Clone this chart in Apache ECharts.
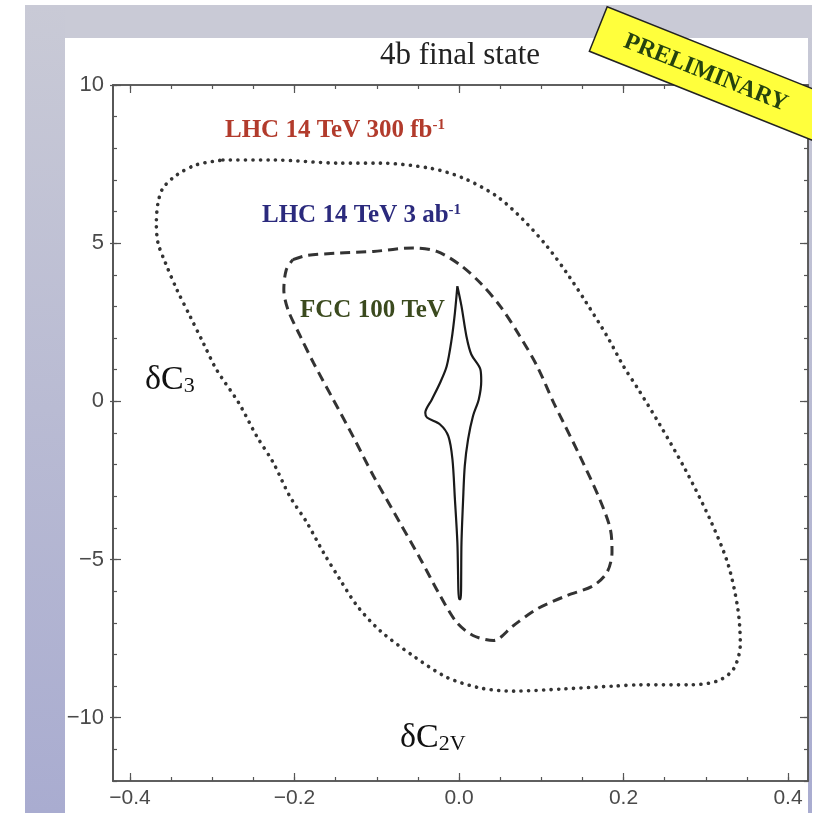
<!DOCTYPE html>
<html>
<head>
<meta charset="utf-8">
<title>4b final state</title>
<script src="https://cdn.jsdelivr.net/npm/echarts@6/dist/echarts.min.js"></script>
<style>
    html, body {margin: 0; padding: 0; background: #ffffff;}
    #contourDiv {width: 825px; height: 813px;}
</style>
</head>
<body>
<div id="contourDiv"></div>
<script>
    var xTicks = [-0.4, -0.2, 0, 0.2, 0.4];
    var xMinorTicks = [-0.4, -0.35, -0.3, -0.25, -0.2, -0.15, -0.1, -0.05, 0, 0.05, 0.1, 0.15, 0.2, 0.25, 0.3, 0.35, 0.4];
    var yTicks = [-10, -5, 0, 5, 10];
    var yMinorTicks = [-12, -11, -10, -9, -8, -7, -6, -5, -4, -3, -2, -1, 0, 1, 2, 3, 4, 5, 6, 7, 8, 9, 10];

    // LHC 14 TeV 300 fb-1 (dotted)
    var lhc300X = [-0.287, -0.226, -0.145, -0.096, -0.035, 0.005, 0.046, 0.078, 0.107, 0.131, 0.155, 0.180, 0.200, 0.218, 0.244, 0.275, 0.305, 0.327, 0.339, 0.342, 0.334, 0.315, 0.281, 0.220, 0.188, 0.127, 0.066, 0.026, -0.015, -0.056, -0.096, -0.124, -0.145, -0.165, -0.185, -0.206, -0.226, -0.246, -0.268, -0.295, -0.311, -0.327, -0.343, -0.357, -0.366, -0.368, -0.366, -0.360, -0.343, -0.319, -0.287];
    var lhc300Y = [7.63, 7.63, 7.53, 7.53, 7.37, 7.06, 6.48, 5.74, 4.90, 4.06, 3.11, 2.06, 1.11, 0.38, -0.73, -2.15, -3.72, -5.14, -6.56, -7.67, -8.45, -8.83, -8.96, -8.96, -9.00, -9.09, -9.16, -9.06, -8.72, -8.04, -7.25, -6.46, -5.62, -4.77, -3.83, -2.99, -1.93, -1.10, -0.04, 1.01, 1.85, 2.69, 3.53, 4.38, 5.01, 5.64, 6.27, 6.74, 7.16, 7.48, 7.63];

    // LHC 14 TeV 3 ab-1 (dashed)
    var lhc3abX = [-0.202, -0.185, -0.145, -0.104, -0.056, -0.027, 0.001, 0.026, 0.050, 0.074, 0.095, 0.115, 0.127, 0.147, 0.171, 0.184, 0.186, 0.180, 0.163, 0.131, 0.095, 0.066, 0.042, 0.017, -0.003, -0.023, -0.047, -0.072, -0.104, -0.129, -0.153, -0.177, -0.193, -0.208, -0.213, -0.210, -0.202];
    var lhc3abY = [4.48, 4.61, 4.69, 4.74, 4.85, 4.74, 4.32, 3.74, 3.01, 2.06, 1.11, -0.04, -0.67, -1.73, -3.09, -4.04, -4.77, -5.40, -5.83, -6.14, -6.56, -7.09, -7.56, -7.40, -6.98, -6.14, -4.98, -3.83, -2.36, -1.10, 0.06, 1.22, 2.06, 2.90, 3.53, 4.16, 4.48];

    // FCC 100 TeV (solid)
    var fcc100X = [-0.002, 0.003, 0.009, 0.015, 0.026, 0.027, 0.024, 0.017, 0.011, 0.007, 0.005, 0.003, 0.002, 0.000, -0.002, -0.005, -0.008, -0.013, -0.023, -0.039, -0.041, -0.033, -0.023, -0.015, -0.009, -0.005, -0.002];
    var fcc100Y = [3.64, 3.01, 2.06, 1.48, 1.01, 0.64, 0.06, -0.46, -1.20, -2.04, -3.09, -4.46, -6.25, -6.25, -4.46, -3.09, -1.83, -1.10, -0.73, -0.51, -0.36, 0.06, 0.59, 1.11, 1.96, 2.80, 3.64];

    function pairs(xs, ys) {
        var out = [];
        for (var i = 0; i < xs.length; i++) {
            out.push([xs[i], ys[i]]);
        }
        return out;
    }

    function minusFmt(v, digits) {
        var s = Math.abs(v).toFixed(digits);
        return v < 0 ? '\u2212' + s : s;
    }

    var frameColor = '#555';
    var xMin = -0.4207, xMax = 0.4243;
    var yMin = -12, yMax = 10;

    function xAxisDef(pos, ticks, len, labels) {
        return {
            type: 'value', position: pos, min: xMin, max: xMax,
            axisLine: {show: true, onZero: false, lineStyle: {color: frameColor, width: 1.5}},
            axisTick: {show: true, inside: true, length: len, customValues: ticks, lineStyle: {color: frameColor, width: 1.2}},
            axisLabel: labels ? {
                show: true, customValues: xTicks, margin: 7,
                fontFamily: 'Liberation Sans', fontSize: 21, color: '#4a4a4a',
                formatter: function (v) { return minusFmt(v, 1); }
            } : {show: false},
            splitLine: {show: false}
        };
    }

    function yAxisDef(pos, ticks, len, labels, inside) {
        return {
            type: 'value', position: pos, min: yMin, max: yMax,
            axisLine: {show: true, onZero: false, lineStyle: {color: frameColor, width: 1.5}},
            axisTick: {show: true, inside: inside !== false, length: len, customValues: ticks, lineStyle: {color: frameColor, width: 1.2}},
            axisLabel: labels ? {
                show: true, customValues: yTicks, margin: 9,
                fontFamily: 'Liberation Sans', fontSize: 22, color: '#4a4a4a',
                formatter: function (v) { return minusFmt(v, 0); }
            } : {show: false},
            splitLine: {show: false}
        };
    }

    function richLabel(color) {
        return {
            m: {font: 'bold 25px "Liberation Serif"', fill: color},
            s: {font: 'bold 15px "Liberation Serif"', fill: color, verticalAlign: 'top', padding: [0, 0, 11, 0]}
        };
    }

    var contourChart = echarts.init(document.getElementById('contourDiv'), null, {renderer: 'canvas'});
    var option = {
        animation: false,
        backgroundColor: '#ffffff',
        grid: {left: 113, right: 17, top: 85, bottom: 32, containLabel: false},
        xAxis: [
            xAxisDef('bottom', xTicks, 8, true),
            xAxisDef('bottom', xMinorTicks, 4, false),
            xAxisDef('top', xTicks, 8, false),
            xAxisDef('top', xMinorTicks, 4, false)
        ],
        yAxis: [
            yAxisDef('left', yTicks, 8, true),
            yAxisDef('left', yMinorTicks, 4, false),
            yAxisDef('left', yTicks, 3, false, false),
            yAxisDef('right', yTicks, 8, false),
            yAxisDef('right', yMinorTicks, 4, false)
        ],
        graphic: [
            {type: 'rect', z: -100, shape: {x: 25, y: 5, width: 787, height: 808},
                style: {fill: new echarts.graphic.LinearGradient(0, 0, 0, 1, [
                    {offset: 0, color: '#c9cad6'}, {offset: 1, color: '#a9acd0'}])}},
            {type: 'rect', z: -99, shape: {x: 65, y: 5, width: 747, height: 33},
                style: {fill: '#c9cad6'}},
            {type: 'rect', z: -98, shape: {x: 65, y: 38, width: 743, height: 775},
                style: {fill: '#ffffff'}},
            {type: 'text', z: 10, x: 460, y: 56,
                style: {text: '4b final state', font: '31px "Liberation Serif"', fill: '#222', align: 'center', verticalAlign: 'middle'}},
            {type: 'text', z: 10, x: 225, y: 131,
                style: {text: '{m|LHC 14 TeV 300 fb}{s|-1}', verticalAlign: 'middle', rich: richLabel('#b23b2c')}},
            {type: 'text', z: 10, x: 262, y: 216,
                style: {text: '{m|LHC 14 TeV 3 ab}{s|-1}', verticalAlign: 'middle', rich: richLabel('#2b2a7d')}},
            {type: 'text', z: 10, x: 300, y: 311,
                style: {text: 'FCC 100 TeV', font: 'bold 25px "Liberation Serif"', fill: '#3b4a1e', verticalAlign: 'middle'}},
            {type: 'text', z: 10, x: 145, y: 380,
                style: {text: '{m|\u03b4C}{s|3}', verticalAlign: 'middle',
                    rich: {m: {font: '34px "Liberation Serif"', fill: '#111'},
                        s: {font: '22px "Liberation Serif"', fill: '#111', verticalAlign: 'bottom', padding: [8, 0, 0, 0]}}}},
            {type: 'text', z: 10, x: 400, y: 738,
                style: {text: '{m|\u03b4C}{s|2V}', verticalAlign: 'middle',
                    rich: {m: {font: '34px "Liberation Serif"', fill: '#111'},
                        s: {font: '22px "Liberation Serif"', fill: '#111', verticalAlign: 'bottom', padding: [8, 0, 0, 0]}}}},
            {type: 'group', z: 20, x: 706, y: 72, rotation: -0.38, children: [
                {type: 'rect', z: 20, shape: {x: -116, y: -24, width: 240, height: 48},
                    style: {fill: '#ffff3c', stroke: '#222', lineWidth: 1.5}},
                {type: 'text', z: 21, x: 0, y: 1,
                    style: {text: 'PRELIMINARY', font: 'bold 24px "Liberation Serif"', fill: '#24420f', align: 'center', verticalAlign: 'middle'}}
            ]},
            // the screenshot is cut off on the right
            {type: 'rect', z: 30, shape: {x: 812, y: 0, width: 13, height: 813},
                style: {fill: '#ffffff'}}
        ],
        series: [
            {
                name: 'LHC 14 TeV 300 fb-1', type: 'line', xAxisIndex: 0, yAxisIndex: 0,
                showSymbol: false, smooth: 0.3,
                lineStyle: {color: '#333', width: 3.6, type: [0.1, 7.4], cap: 'round'},
                data: pairs(lhc300X, lhc300Y)
            },
            {
                name: 'LHC 14 TeV 3 ab-1', type: 'line', xAxisIndex: 0, yAxisIndex: 0,
                showSymbol: false, smooth: 0.3,
                lineStyle: {color: '#333', width: 3, type: [10, 6]},
                data: pairs(lhc3abX, lhc3abY)
            },
            {
                name: 'FCC 100 TeV', type: 'line', xAxisIndex: 0, yAxisIndex: 0,
                showSymbol: false, smooth: 0.3,
                lineStyle: {color: '#1a1a1a', width: 2.2},
                data: pairs(fcc100X, fcc100Y)
            }
        ]
    };
    contourChart.setOption(option);
</script>
</body>
</html>
